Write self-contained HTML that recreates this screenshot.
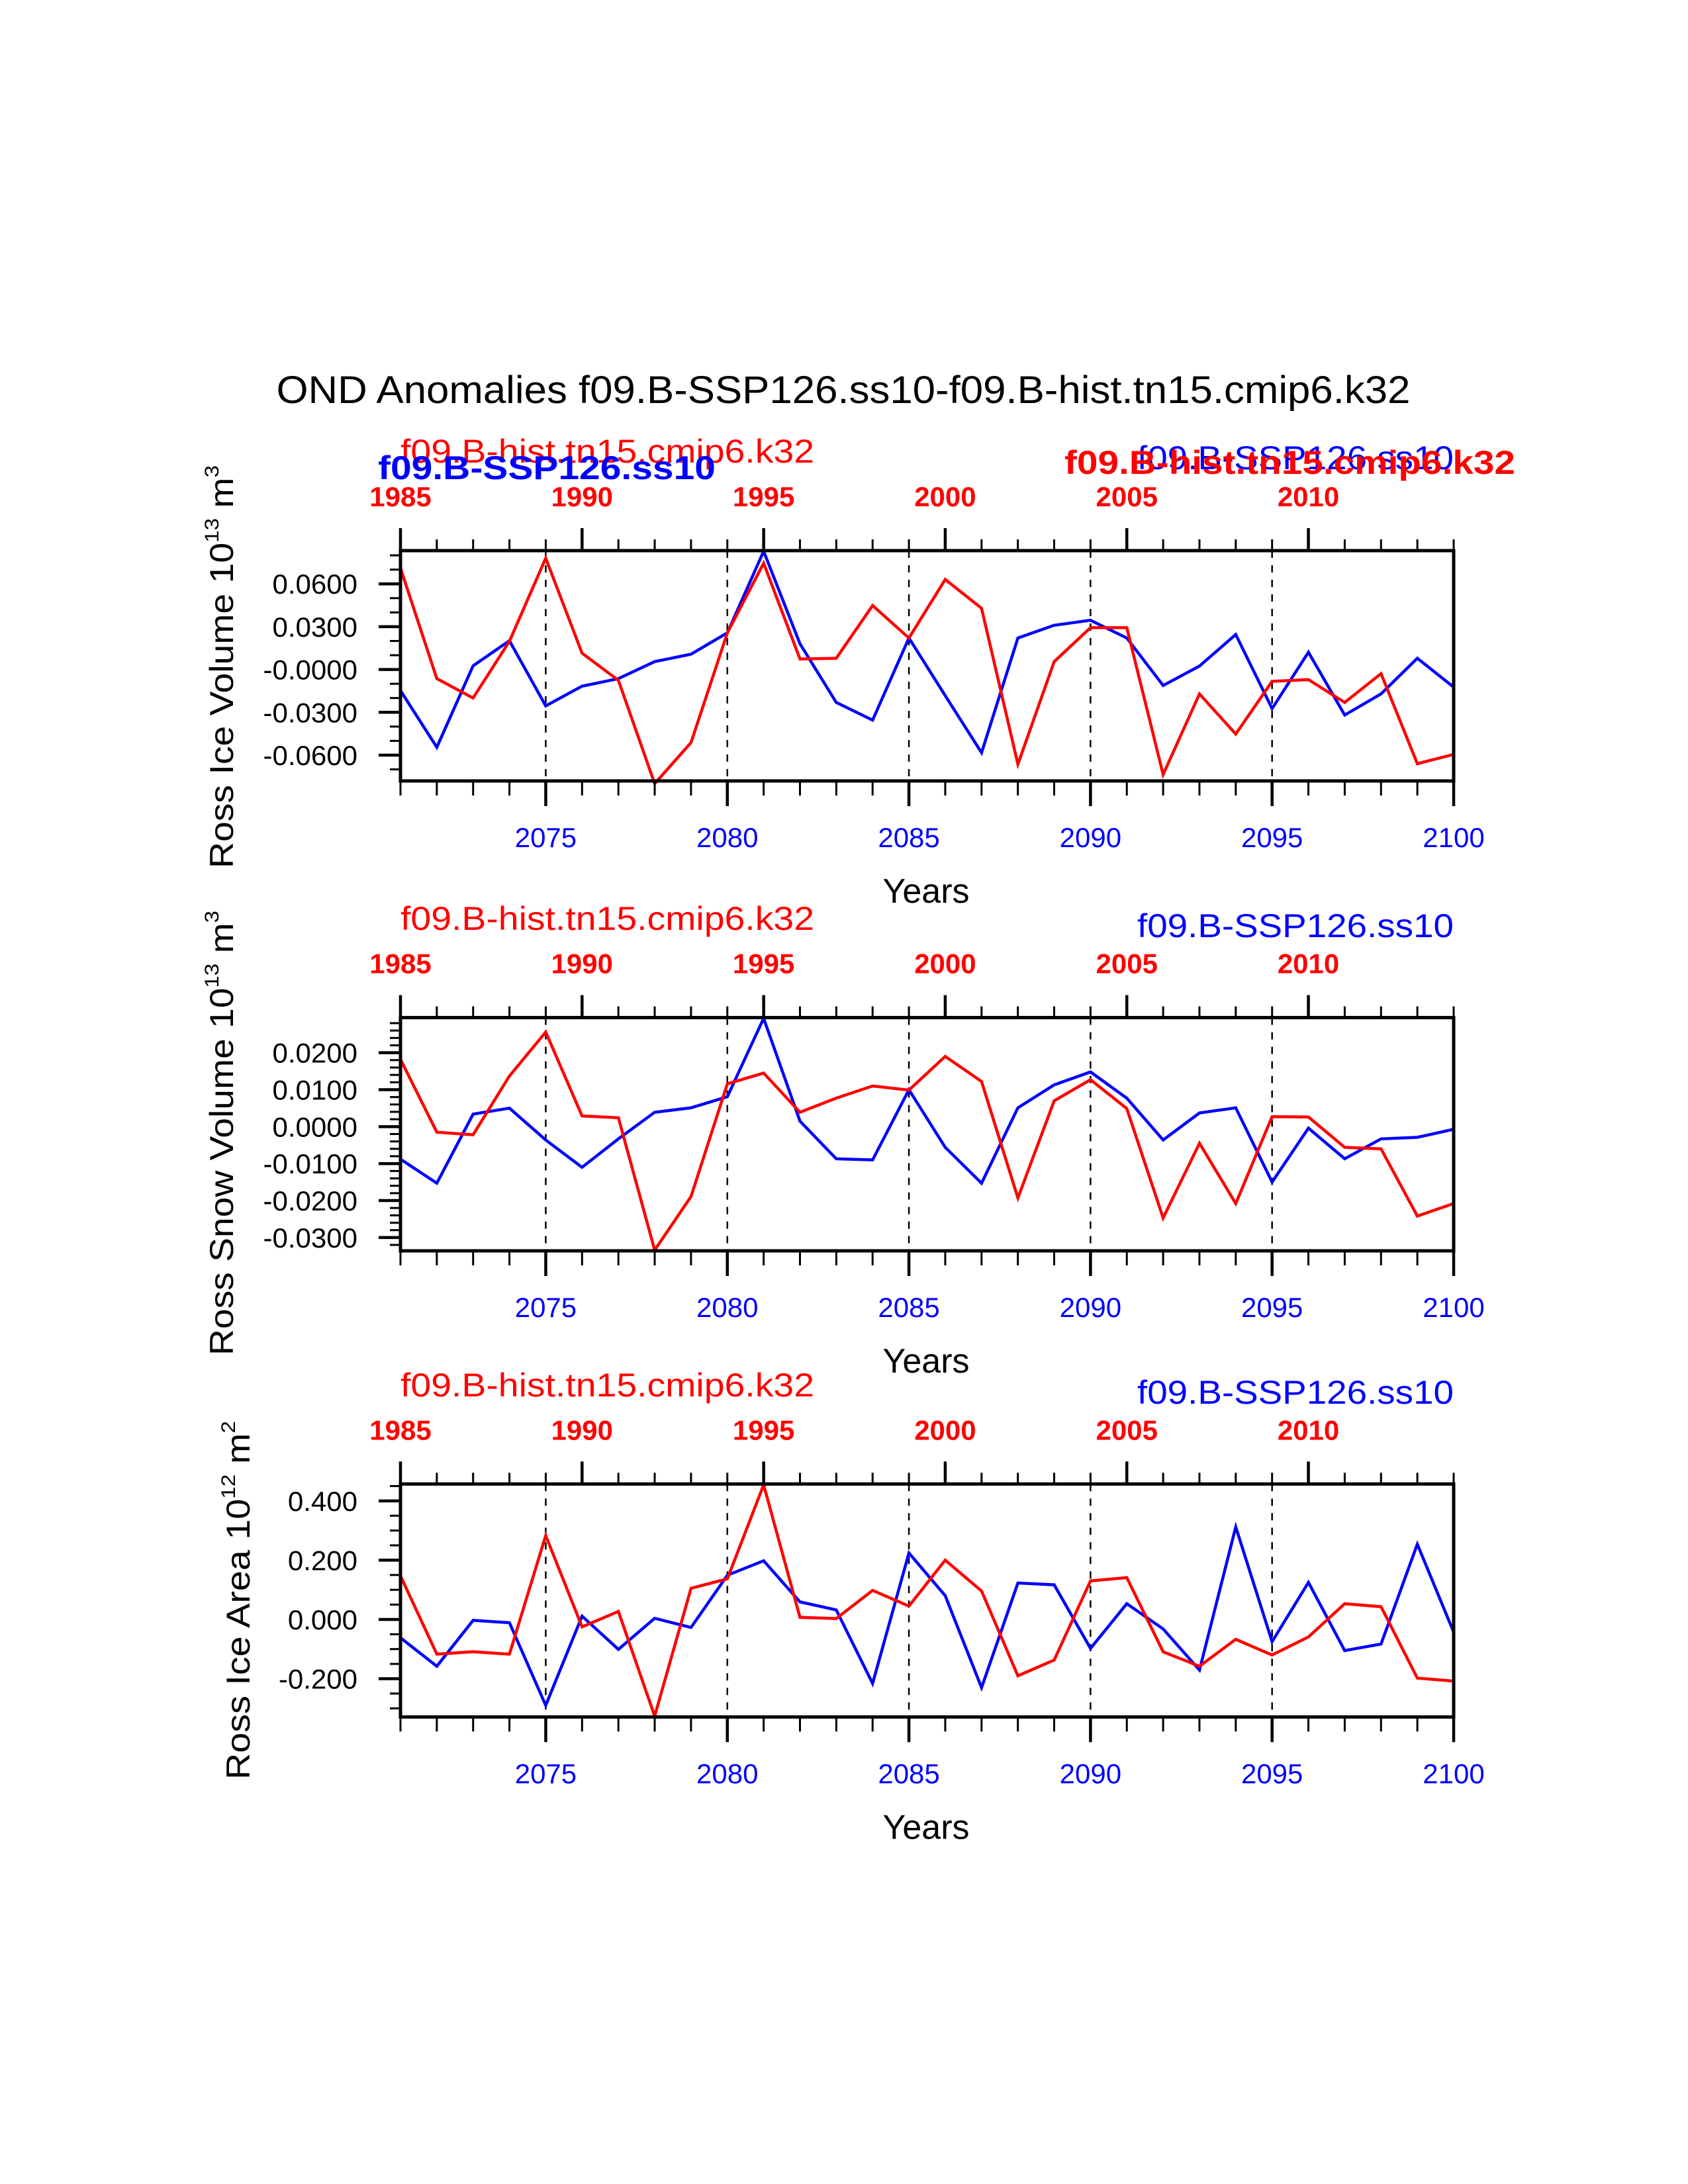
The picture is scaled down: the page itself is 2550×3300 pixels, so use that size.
<!DOCTYPE html>
<html><head><meta charset="utf-8"><style>
html,body{margin:0;padding:0;background:#fff;}
svg{display:block;font-family:"Liberation Sans",sans-serif;}
</style></head><body>
<svg id="chart" width="2550" height="3300" viewBox="0 0 2550 3300" xmlns="http://www.w3.org/2000/svg">
<text x="1274" y="609" font-size="58" text-anchor="middle" textLength="1713" lengthAdjust="spacingAndGlyphs">OND Anomalies f09.B-SSP126.ss10-f09.B-hist.tn15.cmip6.k32</text>
</svg>
<script>
const years = [];
for (let y = 2071; y <= 2100; y++) years.push(y);
const bottomTickLabels = ["2075","2080","2085","2090","2095","2100"];
const topTickLabels = ["1985","1990","1995","2000","2005","2010"];

const iceVolSSP = [-0.0148,-0.0545,0.0026,0.0202,-0.0255,-0.0117,-0.0064,0.0055,0.0107,0.0257,0.0829,0.018,-0.0231,-0.0355,0.0221,-0.0183,-0.0583,0.0221,0.031,0.0345,0.0221,-0.0112,0.0024,0.0245,-0.0274,0.0121,-0.0319,-0.0171,0.0079,-0.0124];
const iceVolHist = [0.071,-0.0064,-0.02,0.0198,0.078,0.0114,-0.0076,-0.080,-0.0512,0.0257,0.0745,0.0074,0.0079,0.0448,0.0221,0.0631,0.0429,-0.0664,0.0055,0.0293,0.0293,-0.0736,-0.0171,-0.0452,-0.0083,-0.0071,-0.0231,-0.0029,-0.066,-0.0595];
const snowVolSSP = [-0.0088,-0.0153,0.0034,0.005,-0.0036,-0.011,-0.0033,0.0039,0.0051,0.0081,0.0293,0.0015,-0.0087,-0.009,0.01,-0.0056,-0.0153,0.0051,0.0113,0.0148,0.0077,-0.0036,0.0037,0.0051,-0.015,-0.0004,-0.0087,-0.0033,-0.0029,-0.0007];
const snowVolHist = [0.0182,-0.0015,-0.0022,0.0137,0.0256,0.0029,0.0024,-0.0334,-0.0189,0.0116,0.0145,0.0039,0.0077,0.011,0.0099,0.019,0.0122,-0.0193,0.007,0.0127,0.0049,-0.0247,-0.0045,-0.0208,0.0027,0.0026,-0.0056,-0.006,-0.0242,-0.0208];
const iceAreaSSP = [-0.062,-0.158,-0.003,-0.011,-0.29,0.011,-0.101,0.004,-0.027,0.149,0.198,0.059,0.032,-0.216,0.224,0.08,-0.23,0.123,0.117,-0.098,0.053,-0.032,-0.171,0.312,-0.075,0.125,-0.105,-0.083,0.254,-0.043];
const iceAreaHist = [0.147,-0.117,-0.109,-0.117,0.283,-0.025,0.027,-0.326,0.105,0.137,0.454,0.007,0.003,0.098,0.045,0.2,0.096,-0.19,-0.137,0.13,0.141,-0.109,-0.158,-0.067,-0.12,-0.059,0.053,0.043,-0.198,-0.208];

const volTicks = [0.06,0.03,0,-0.03,-0.06];
const volTickLabels = ["0.0600","0.0300","-0.0000","-0.0300","-0.0600"];
const snowTicks = [0.02,0.01,0,-0.01,-0.02,-0.03];
const snowTickLabels = ["0.0200","0.0100","0.0000","-0.0100","-0.0200","-0.0300"];
const areaTicks = [0.4,0.2,0,-0.2];
const areaTickLabels = ["0.400","0.200","0.000","-0.200"];

const NS = "http://www.w3.org/2000/svg";
const svg = document.getElementById('chart');
function mk(tag, attrs, parent, text){
  const e = document.createElementNS(NS, tag);
  for (const k in attrs) e.setAttribute(k, attrs[k]);
  if (text !== undefined) e.textContent = text;
  (parent||svg).appendChild(e);
  return e;
}
const X0 = 605, X1 = 2196;
function xs(yr){ return X0 + (yr - 2071) * (X1 - X0) / 29; }

function panel(cfg){
  const g = mk('g', {});
  
  
  const top = cfg.top, bot = cfg.bot;
  const ys = v => bot - (v - cfg.ymin) * (bot - top) / (cfg.ymax - cfg.ymin);
  [2075,2080,2085,2090,2095].forEach(yr=>{
    const l = mk('line',{x1:xs(yr),x2:xs(yr),y1:top,y2:bot,stroke:'#000','stroke-width':2.5,'stroke-dasharray':'11,11'},g);
    
    
  });
  const mkLine = (vals,color,nm)=>{
    const pts = vals.map((v,i)=>xs(years[i]).toFixed(1)+','+ys(v).toFixed(1)).join(' ');
    const p = mk('polyline',{points:pts,fill:'none',stroke:color,'stroke-width':4.5,'stroke-linejoin':'miter'},g);
    
    
  };
  mkLine(cfg.ssp,'#0000ff','ssp126-line');
  mkLine(cfg.hist,'#ff0000','hist-line');
  const b = mk('rect',{x:X0,y:top,width:X1-X0,height:bot-top,fill:'none',stroke:'#000','stroke-width':5},g);
  
  
  years.forEach(yr=>{
    const x = xs(yr);
    const bm = (yr % 5 === 0);
    mk('line',{x1:x,x2:x,y1:bot,y2:bot+(bm?38:22),stroke:'#000','stroke-width':bm?4.5:3},g);
    const topMajor = ((yr-2071) % 5 === 0);
    mk('line',{x1:x,x2:x,y1:top,y2:top-(topMajor?34:17),stroke:'#000','stroke-width':topMajor?4.5:3},g);
  });
  bottomTickLabels.forEach(s=>{
    const t = mk('text',{x:xs(+s),y:bot+100,'font-size':42,fill:'#0000ff','text-anchor':'middle'},g,s);
    
    
  });
  topTickLabels.forEach(s=>{
    const t = mk('text',{x:xs(+s+86),y:top-67,'font-size':42,'font-weight':'bold',fill:'#ff0000','text-anchor':'middle'},g,s);
    
    
  });
  for (let v = cfg.minorStart; v <= cfg.ymax + 1e-9; v += cfg.minor){
    const y = ys(v); if (y < top-1 || y > bot+1) continue;
    mk('line',{x1:X0-16,x2:X0,y1:y,y2:y,stroke:'#000','stroke-width':3},g);
  }
  cfg.ticks.forEach((v,i)=>{
    const y = ys(v);
    mk('line',{x1:X0-33,x2:X0,y1:y,y2:y,stroke:'#000','stroke-width':4.5},g);
    const t = mk('text',{x:540,y:y+15,'font-size':42,'text-anchor':'end'},g,cfg.tickLabels[i]);
    
    
  });
  const xt = mk('text',{x:1399,y:bot+184,'font-size':52,'text-anchor':'middle'},g,'Years');
  
  
  const yt = mk('text',{x:0,y:0,'font-size':50,'text-anchor':'middle',transform:`translate(${cfg.ytx},${(cfg.yt0+cfg.yt1)/2}) rotate(-90)`,textLength:cfg.yt1-cfg.yt0,lengthAdjust:'spacingAndGlyphs'},g);
  
  
  yt.innerHTML = cfg.ytitle;
}

panel({name:'ice-volume-panel',top:832,bot:1180,ymin:-0.0781,ymax:0.0833,ssp:iceVolSSP,hist:iceVolHist,ticks:volTicks,tickLabels:volTickLabels,minor:0.01,minorStart:-0.07,ytx:352,yt0:703,yt1:1312,ytitle:'Ross Ice Volume 10<tspan dy="-22" font-size="30">13</tspan><tspan dy="22"> m</tspan><tspan dy="-22" font-size="30">3</tspan>'});
panel({name:'snow-volume-panel',top:1537.6,bot:1890,ymin:-0.0336,ymax:0.0295,ssp:snowVolSSP,hist:snowVolHist,ticks:snowTicks,tickLabels:snowTickLabels,minor:0.002,minorStart:-0.032,ytx:352,yt0:1376,yt1:2048,ytitle:'Ross Snow Volume 10<tspan dy="-22" font-size="30">13</tspan><tspan dy="22"> m</tspan><tspan dy="-22" font-size="30">3</tspan>'});
panel({name:'ice-area-panel',top:2242.3,bot:2594.3,ymin:-0.329,ymax:0.457,ssp:iceAreaSSP,hist:iceAreaHist,ticks:areaTicks,tickLabels:areaTickLabels,minor:0.05,minorStart:-0.3,ytx:377,yt0:2147,yt1:2689,ytitle:'Ross Ice Area 10<tspan dy="-22" font-size="30">12</tspan><tspan dy="22"> m</tspan><tspan dy="-22" font-size="30">2</tspan>'});

function lbl(txt,x,y,color,bold,w,nm){
  const t = mk('text',{x:x,y:y,'font-size':50,fill:color,'font-weight':bold?'bold':'normal',textLength:w,lengthAdjust:'spacingAndGlyphs'},svg,txt);
  
  
}
lbl('f09.B-hist.tn15.cmip6.k32',605,699,'#ff0000',false,625,'hist-label');
lbl('f09.B-SSP126.ss10',571,724,'#0000ff',true,510,'ssp-label-bold');
lbl('f09.B-SSP126.ss10',1718,709,'#0000ff',false,478,'ssp-label');
lbl('f09.B-hist.tn15.cmip6.k32',1608,716,'#ff0000',true,681,'hist-label-bold');
lbl('f09.B-hist.tn15.cmip6.k32',605,1405,'#ff0000',false,625,'hist-label');
lbl('f09.B-SSP126.ss10',1718,1416,'#0000ff',false,478,'ssp-label');
lbl('f09.B-hist.tn15.cmip6.k32',605,2110,'#ff0000',false,625,'hist-label');
lbl('f09.B-SSP126.ss10',1718,2121,'#0000ff',false,478,'ssp-label');
</script>
</body></html>
